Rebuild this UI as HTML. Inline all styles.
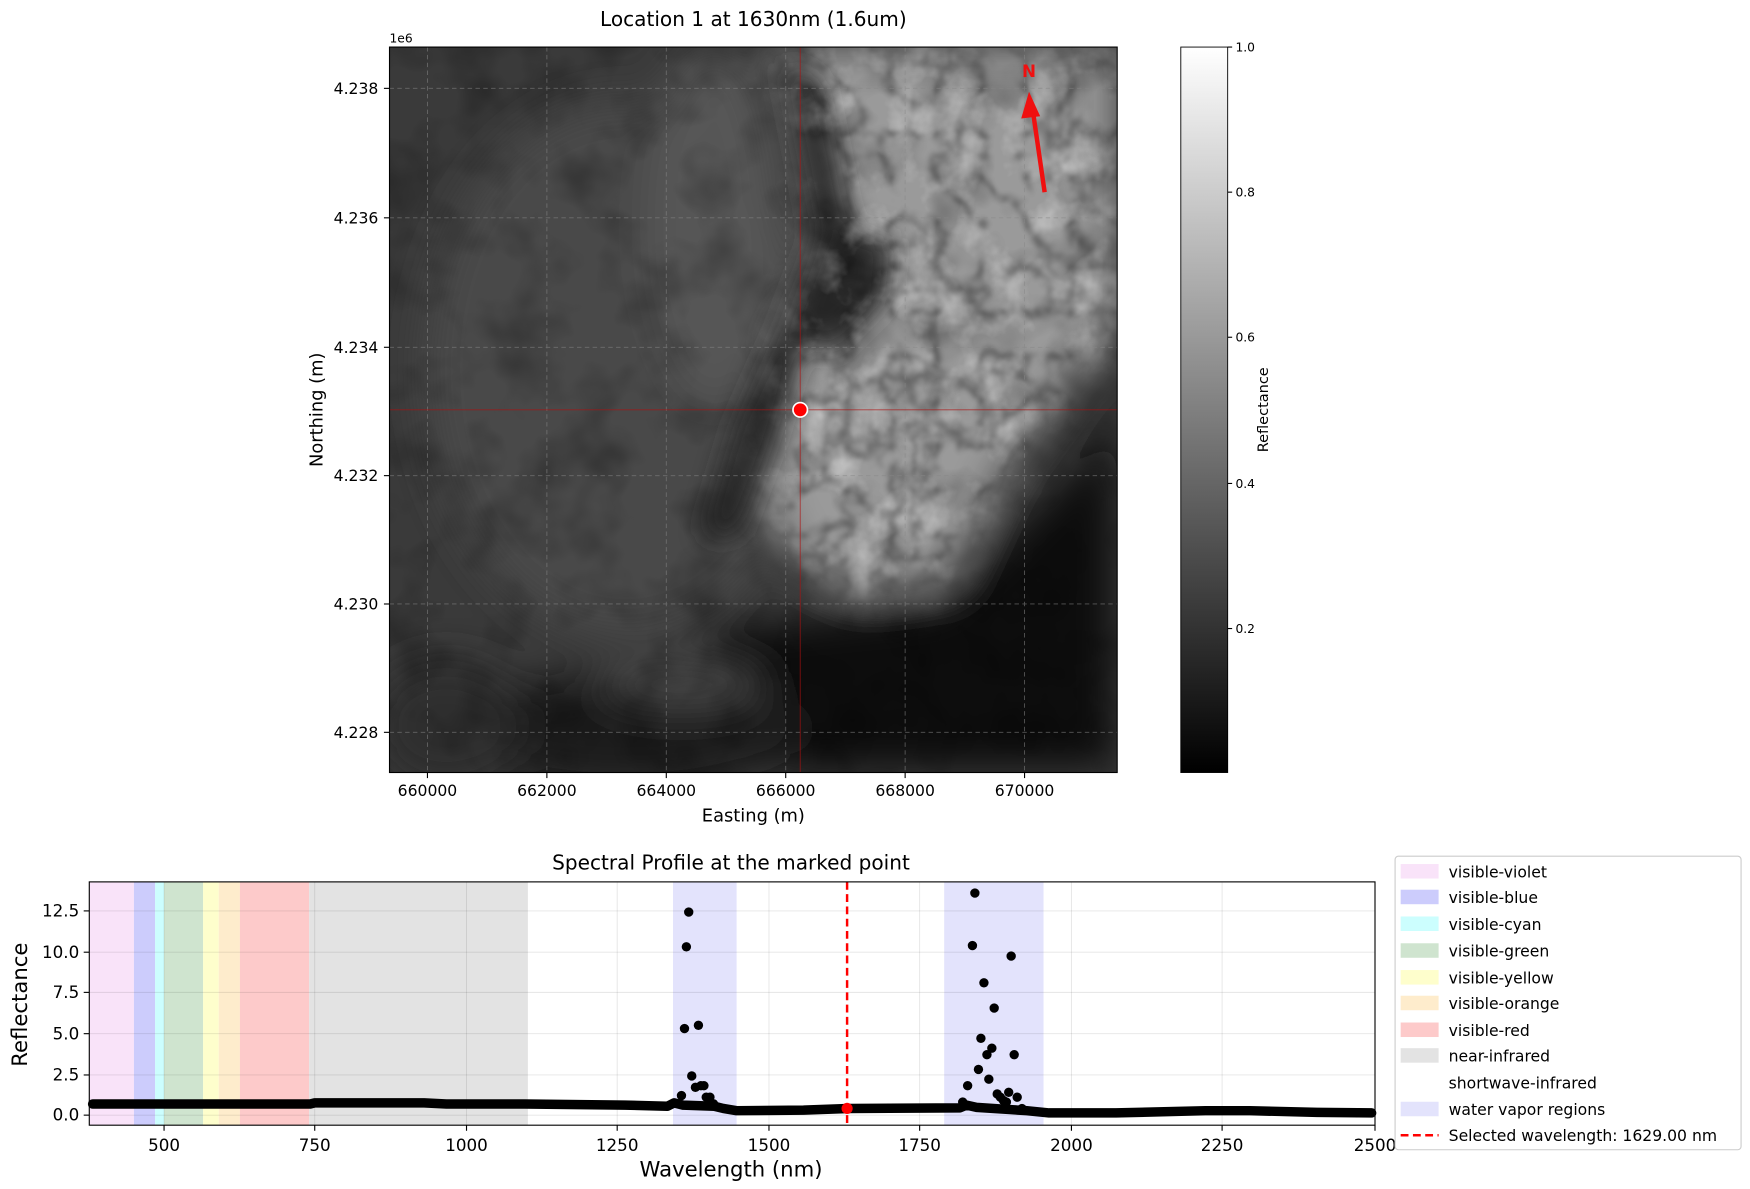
<!DOCTYPE html>
<html><head><meta charset="utf-8"><style>
html,body{margin:0;padding:0;background:#fff;}
svg{display:block;font-family:"DejaVu Sans","Liberation Sans",sans-serif;}
</style></head><body>
<svg width="1750" height="1189" viewBox="0 0 1568 1065" xmlns="http://www.w3.org/2000/svg">
<defs>
<clipPath id="ic"><rect x="349" y="42" width="652" height="650"/></clipPath>
<filter id="bl" x="-20%" y="-20%" width="140%" height="140%"><feGaussianBlur stdDeviation="18"/></filter>
<filter id="bl2" x="-20%" y="-20%" width="140%" height="140%"><feGaussianBlur stdDeviation="12"/></filter>
<filter id="cracks" x="0" y="0" width="100%" height="100%">
<feTurbulence type="turbulence" baseFrequency="0.025" numOctaves="4" seed="3"/>
<feColorMatrix type="matrix" values="0 0 0 0 0  0 0 0 0 0  0 0 0 0 0  -3 0 0 0 0.9"/>
<feGaussianBlur stdDeviation="1.8"/>
</filter>
<filter id="light" x="0" y="0" width="100%" height="100%">
<feTurbulence type="fractalNoise" baseFrequency="0.025" numOctaves="4" seed="9"/>
<feColorMatrix type="matrix" values="0 0 0 0 1  0 0 0 0 1  0 0 0 0 1  2.2 0 0 0 -1.05"/>
</filter>
<filter id="soft" x="0" y="0" width="100%" height="100%">
<feTurbulence type="fractalNoise" baseFrequency="0.018" numOctaves="3" seed="21"/>
<feColorMatrix type="matrix" values="0 0 0 0 0  0 0 0 0 0  0 0 0 0 0  2.5 0 0 0 -1.1"/>
</filter>
<linearGradient id="cb" x1="0" y1="0" x2="0" y2="1"><stop offset="0" stop-color="#fff"/><stop offset="1" stop-color="#000"/></linearGradient>
<mask id="cloudm"><path d="M690,42 L1001,42 L1001,300 L960,340 L900,420 L850,520 L770,530 L720,510 L690,450 L700,300 L740,230 L720,100Z" fill="#fff" filter="url(#bl)"/></mask>
</defs>
<text x="675" y="23" text-anchor="middle" font-size="18">Location 1 at 1630nm (1.6um)</text>
<g clip-path="url(#ic)">
<rect x="349" y="42" width="652" height="650" fill="#3a3a3a"/>
<g filter="url(#bl)">
<ellipse cx="560" cy="330" rx="180" ry="240" fill="#4a4a4a"/>
<ellipse cx="640" cy="200" rx="60" ry="160" fill="#565656"/>
<path d="M690,42 L1001,42 L1001,300 L960,340 L900,420 L850,520 L770,530 L720,510 L690,450 L700,300 L740,230 L720,100Z" fill="#9a9a9a"/>
<path d="M840,540 L1001,380 L1001,692 L620,692 L640,560Z" fill="#070707"/>
<ellipse cx="560" cy="655" rx="160" ry="55" fill="#1e1e1e"/>
<ellipse cx="610" cy="612" rx="75" ry="22" fill="#454545"/>
<ellipse cx="400" cy="650" rx="70" ry="60" fill="#2e2e2e"/>
</g>
<g filter="url(#bl2)" fill="#2a2a2a">
<path d="M700,55 L735,70 L765,220 L720,300 L690,400 L660,480 L630,480 L660,380 L700,290 L730,210Z"/>
<path d="M750,200 L800,215 L795,270 L745,320 L715,300Z"/>
</g>
<rect x="349" y="42" width="652" height="650" filter="url(#soft)" opacity="0.25"/>
<rect x="349" y="42" width="652" height="650" filter="url(#light)" opacity="0.45" mask="url(#cloudm)"/>
<rect x="349" y="42" width="652" height="650" filter="url(#cracks)" opacity="0.45" mask="url(#cloudm)"/>
<g stroke="#888" stroke-width="0.8" stroke-dasharray="4,3" opacity="0.6">
<line x1="383" y1="42" x2="383" y2="692"/><line x1="490" y1="42" x2="490" y2="692"/><line x1="597" y1="42" x2="597" y2="692"/><line x1="704" y1="42" x2="704" y2="692"/><line x1="811" y1="42" x2="811" y2="692"/><line x1="918" y1="42" x2="918" y2="692"/>
<line x1="349" y1="79" x2="1001" y2="79"/><line x1="349" y1="195" x2="1001" y2="195"/><line x1="349" y1="311" x2="1001" y2="311"/><line x1="349" y1="426" x2="1001" y2="426"/><line x1="349" y1="541" x2="1001" y2="541"/><line x1="349" y1="656" x2="1001" y2="656"/>
</g>
<line x1="717" y1="42" x2="717" y2="692" stroke="#b01010" stroke-width="0.8" opacity="0.7"/>
<line x1="349" y1="367" x2="1001" y2="367" stroke="#b01010" stroke-width="0.8" opacity="0.7"/>
<circle cx="717" cy="367" r="6.5" fill="#f00" stroke="#fff" stroke-width="1.5"/>
<line x1="936" y1="172" x2="926" y2="103" stroke="#f01010" stroke-width="4"/>
<polygon points="922,82 915,106 932,104" fill="#f01010"/>
<text x="922" y="69" text-anchor="middle" font-size="15" font-weight="bold" fill="#f01010">N</text>
</g>
<rect x="349" y="42" width="652" height="650" fill="none" stroke="#000" stroke-width="1"/>
<text x="349" y="38" font-size="11">1e6</text>
<g font-size="14" text-anchor="end">
<text x="339" y="84">4.238</text><text x="339" y="200">4.236</text><text x="339" y="316">4.234</text><text x="339" y="431">4.232</text><text x="339" y="546">4.230</text><text x="339" y="661">4.228</text>
</g>
<g stroke="#000"><line x1="344" y1="79" x2="349" y2="79"/><line x1="344" y1="195" x2="349" y2="195"/><line x1="344" y1="311" x2="349" y2="311"/><line x1="344" y1="426" x2="349" y2="426"/><line x1="344" y1="541" x2="349" y2="541"/><line x1="344" y1="656" x2="349" y2="656"/>
<line x1="383" y1="692" x2="383" y2="697"/><line x1="490" y1="692" x2="490" y2="697"/><line x1="597" y1="692" x2="597" y2="697"/><line x1="704" y1="692" x2="704" y2="697"/><line x1="811" y1="692" x2="811" y2="697"/><line x1="918" y1="692" x2="918" y2="697"/></g>
<g font-size="14" text-anchor="middle">
<text x="383" y="713">660000</text><text x="490" y="713">662000</text><text x="597" y="713">664000</text><text x="704" y="713">666000</text><text x="811" y="713">668000</text><text x="918" y="713">670000</text>
</g>
<text x="675" y="736" text-anchor="middle" font-size="16">Easting (m)</text>
<text transform="translate(289,367) rotate(-90)" text-anchor="middle" font-size="16">Northing (m)</text>
<rect x="1058" y="42" width="42" height="650" fill="url(#cb)" stroke="#000" stroke-width="0.8"/>
<g stroke="#000"><line x1="1100" y1="42" x2="1104" y2="42"/><line x1="1100" y1="172" x2="1104" y2="172"/><line x1="1100" y1="302" x2="1104" y2="302"/><line x1="1100" y1="433" x2="1104" y2="433"/><line x1="1100" y1="563" x2="1104" y2="563"/></g>
<g font-size="11"><text x="1107" y="46">1.0</text><text x="1107" y="176">0.8</text><text x="1107" y="306">0.6</text><text x="1107" y="437">0.4</text><text x="1107" y="567">0.2</text></g>
<text transform="translate(1136,367) rotate(-90)" text-anchor="middle" font-size="13">Reflectance</text>

<text x="655" y="779" text-anchor="middle" font-size="18">Spectral Profile at the marked point</text>
<g>
<rect x="80" y="790" width="40" height="218" fill="#f9e3f9"/>
<rect x="120" y="790" width="19" height="218" fill="#ccccfc"/>
<rect x="139" y="790" width="8" height="218" fill="#ccfefe"/>
<rect x="147" y="790" width="35" height="218" fill="#cfe4cf"/>
<rect x="182" y="790" width="14" height="218" fill="#fefecc"/>
<rect x="196" y="790" width="19" height="218" fill="#feeccc"/>
<rect x="215" y="790" width="62" height="218" fill="#fdcaca"/>
<rect x="277" y="790" width="196" height="218" fill="#e3e3e3"/>
<rect x="603" y="790" width="57" height="218" fill="#e3e3fc"/>
<rect x="846" y="790" width="89" height="218" fill="#e3e3fc"/>
</g>
<g stroke="#000" stroke-opacity="0.1" stroke-width="0.8">
<line x1="147" y1="790" x2="147" y2="1008"/><line x1="282" y1="790" x2="282" y2="1008"/><line x1="418" y1="790" x2="418" y2="1008"/><line x1="553" y1="790" x2="553" y2="1008"/><line x1="689" y1="790" x2="689" y2="1008"/><line x1="824" y1="790" x2="824" y2="1008"/><line x1="960" y1="790" x2="960" y2="1008"/><line x1="1095" y1="790" x2="1095" y2="1008"/>
<line x1="80" y1="999" x2="1232" y2="999"/><line x1="80" y1="963" x2="1232" y2="963"/><line x1="80" y1="926" x2="1232" y2="926"/><line x1="80" y1="889" x2="1232" y2="889"/><line x1="80" y1="853" x2="1232" y2="853"/><line x1="80" y1="816" x2="1232" y2="816"/>
</g>
<line x1="759" y1="790" x2="759" y2="1008" stroke="#f00" stroke-width="2.2" stroke-dasharray="7,4"/>
<polyline fill="none" stroke="#000" stroke-width="8.5" stroke-linejoin="round" stroke-linecap="round" points="83,989 278,989 282,988 380,988 400,989 470,989 560,990 598,991 604,988 612,990 640,991 648,993 660,995 720,994.5 760,993 860,992.5 866,990 875,992 905,994 920,995 940,997 1000,997 1080,995 1120,995 1180,996.5 1229,997"/>
<g fill="#000">
<circle cx="610.6" cy="981.4" r="4.2"/><circle cx="613.3" cy="921.4" r="4.2"/><circle cx="615" cy="848.2" r="4.2"/><circle cx="617.1" cy="817" r="4.2"/><circle cx="619.8" cy="963.9" r="4.2"/><circle cx="623.1" cy="974.1" r="4.2"/><circle cx="625.8" cy="918.5" r="4.2"/><circle cx="628" cy="972.6" r="4.2"/><circle cx="630.7" cy="972.6" r="4.2"/><circle cx="632.8" cy="982.9" r="4.2"/><circle cx="636.1" cy="982.9" r="4.2"/><circle cx="639.3" cy="988.8" r="4.2"/>
<circle cx="862.6" cy="987.3" r="4.2"/><circle cx="867" cy="972.6" r="4.2"/><circle cx="871.3" cy="847" r="4.2"/><circle cx="873.5" cy="800" r="4.2"/><circle cx="876.7" cy="958" r="4.2"/><circle cx="878.9" cy="930.2" r="4.2"/><circle cx="881.6" cy="880.4" r="4.2"/><circle cx="884.3" cy="944.8" r="4.2"/><circle cx="886" cy="966.8" r="4.2"/><circle cx="888.7" cy="939" r="4.2"/><circle cx="890.8" cy="903" r="4.2"/><circle cx="893.5" cy="980" r="4.2"/><circle cx="896.3" cy="982.9" r="4.2"/><circle cx="899" cy="985.8" r="4.2"/><circle cx="901.7" cy="987.3" r="4.2"/><circle cx="903.8" cy="978.5" r="4.2"/><circle cx="906" cy="856.5" r="4.2"/><circle cx="908.7" cy="944.8" r="4.2"/><circle cx="911.4" cy="982.9" r="4.2"/><circle cx="915.7" cy="993.1" r="4.2"/>
</g>
<circle cx="759" cy="993" r="5" fill="#f00"/>
<rect x="80" y="790" width="1152" height="218" fill="none" stroke="#000" stroke-width="1"/>
<g stroke="#000">
<line x1="147" y1="1008" x2="147" y2="1013"/><line x1="282" y1="1008" x2="282" y2="1013"/><line x1="418" y1="1008" x2="418" y2="1013"/><line x1="553" y1="1008" x2="553" y2="1013"/><line x1="689" y1="1008" x2="689" y2="1013"/><line x1="824" y1="1008" x2="824" y2="1013"/><line x1="960" y1="1008" x2="960" y2="1013"/><line x1="1095" y1="1008" x2="1095" y2="1013"/><line x1="1232" y1="1008" x2="1232" y2="1013"/>
<line x1="75" y1="999" x2="80" y2="999"/><line x1="75" y1="963" x2="80" y2="963"/><line x1="75" y1="926" x2="80" y2="926"/><line x1="75" y1="889" x2="80" y2="889"/><line x1="75" y1="853" x2="80" y2="853"/><line x1="75" y1="816" x2="80" y2="816"/>
</g>
<g font-size="15" text-anchor="middle">
<text x="147" y="1031">500</text><text x="282" y="1031">750</text><text x="418" y="1031">1000</text><text x="553" y="1031">1250</text><text x="689" y="1031">1500</text><text x="824" y="1031">1750</text><text x="960" y="1031">2000</text><text x="1095" y="1031">2250</text><text x="1232" y="1031">2500</text>
</g>
<g font-size="15" text-anchor="end">
<text x="71" y="1004">0.0</text><text x="71" y="968">2.5</text><text x="71" y="931">5.0</text><text x="71" y="894">7.5</text><text x="71" y="858">10.0</text><text x="71" y="821">12.5</text>
</g>
<text x="655" y="1054" text-anchor="middle" font-size="19">Wavelength (nm)</text>
<text transform="translate(24,900) rotate(-90)" text-anchor="middle" font-size="19">Reflectance</text>

<rect x="1250" y="767" width="310" height="263" rx="3" fill="#fff" stroke="#ccc" stroke-width="1"/>
<g>
<rect x="1255" y="774" width="34" height="13" fill="#f9e3f9"/>
<rect x="1255" y="797" width="34" height="13" fill="#ccccfc"/>
<rect x="1255" y="821" width="34" height="13" fill="#ccfefe"/>
<rect x="1255" y="845" width="34" height="13" fill="#cfe4cf"/>
<rect x="1255" y="869" width="34" height="13" fill="#fefecc"/>
<rect x="1255" y="892" width="34" height="13" fill="#feeccc"/>
<rect x="1255" y="916" width="34" height="13" fill="#fdcaca"/>
<rect x="1255" y="939" width="34" height="13" fill="#e3e3e3"/>
<rect x="1255" y="987" width="34" height="13" fill="#e3e3fc"/>
<line x1="1255" y1="1017" x2="1289" y2="1017" stroke="#f00" stroke-width="2.2" stroke-dasharray="7,4"/>
</g>
<g font-size="14">
<text x="1298" y="786">visible-violet</text><text x="1298" y="809">visible-blue</text><text x="1298" y="833">visible-cyan</text><text x="1298" y="857">visible-green</text><text x="1298" y="881">visible-yellow</text><text x="1298" y="904">visible-orange</text><text x="1298" y="928">visible-red</text><text x="1298" y="951">near-infrared</text><text x="1298" y="975">shortwave-infrared</text><text x="1298" y="999">water vapor regions</text><text x="1298" y="1022">Selected wavelength: 1629.00 nm</text>
</g>
</svg>
</body></html>
